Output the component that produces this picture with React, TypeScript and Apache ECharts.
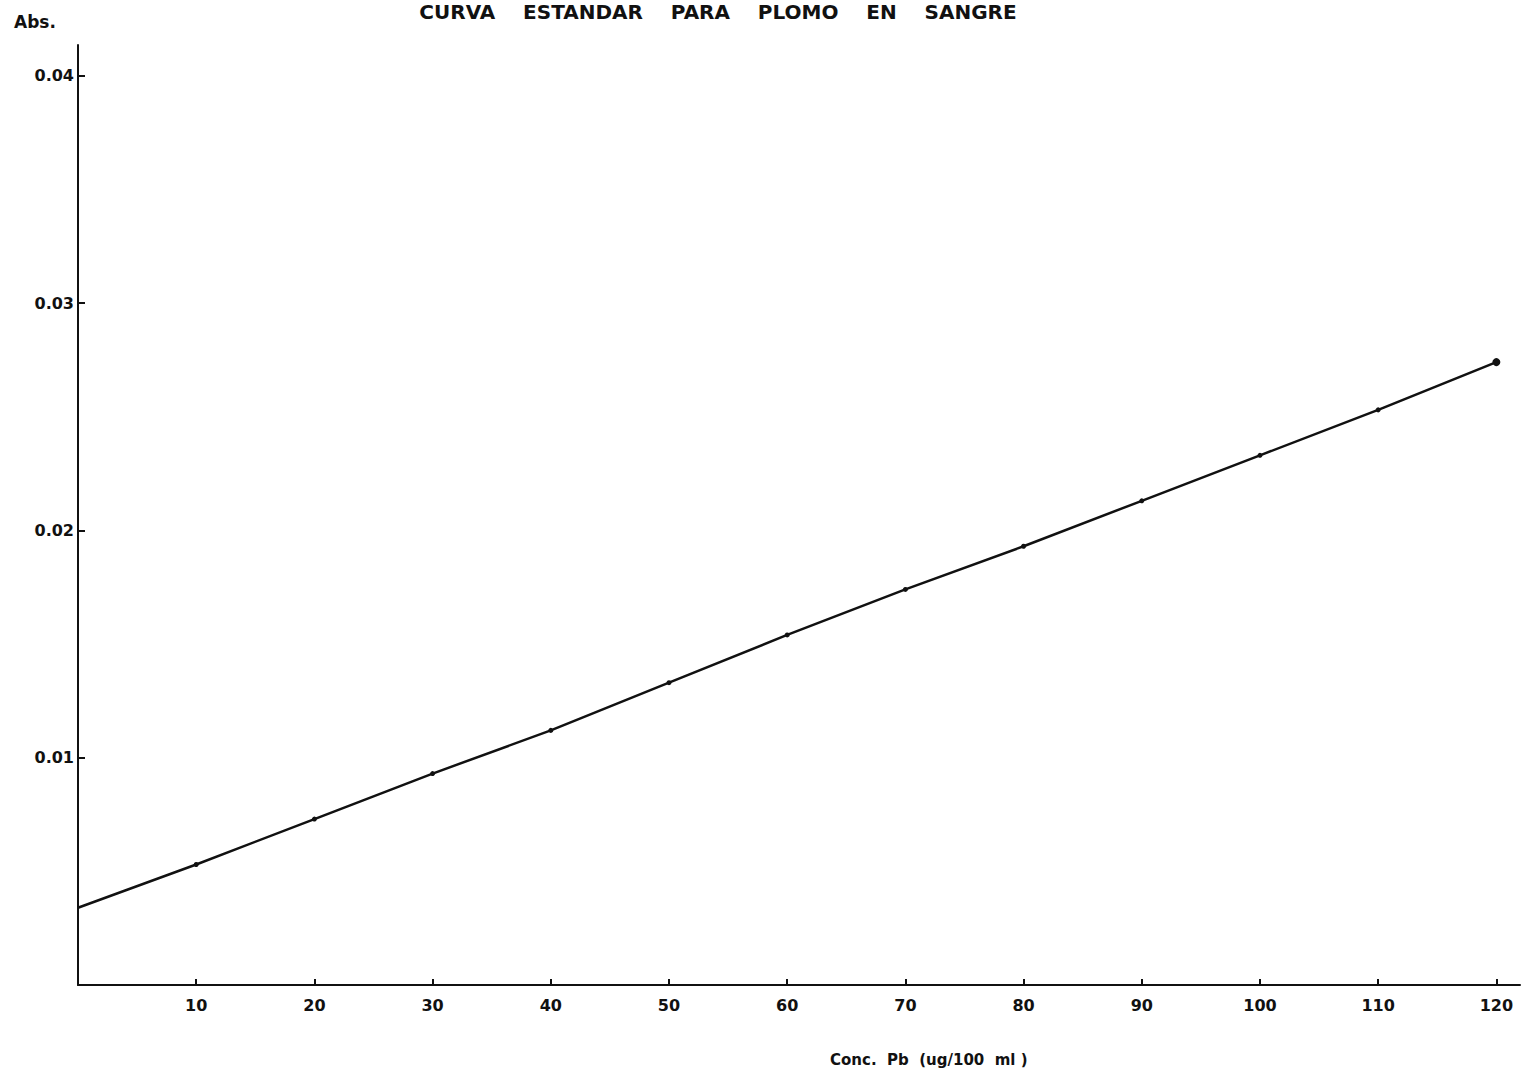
import React, { useEffect, useRef } from "react";
import * as echarts from "echarts";

// Standard curve for lead in blood: absorbance vs. Pb concentration
const concentrations = [0, 10, 20, 30, 40, 50, 60, 70, 80, 90, 100, 110, 120];
const absorbances = [0.0034, 0.0053, 0.0073, 0.0093, 0.0112, 0.0133, 0.0154, 0.0174, 0.0193, 0.0213, 0.0233, 0.0253, 0.0274];
const xTicks = [10, 20, 30, 40, 50, 60, 70, 80, 90, 100, 110, 120];
const yTicks = [0.01, 0.02, 0.03, 0.04];

const titleText = "CURVA    ESTANDAR    PARA    PLOMO    EN    SANGRE";
const yName = "Abs.";
const xName = "Conc.  Pb  (ug/100  ml )";

const FONT = "'DejaVu Sans', sans-serif";

export default function App() {
  const ref = useRef<HTMLDivElement>(null);

  useEffect(() => {
    if (!ref.current) return;
    const chart = echarts.init(ref.current, null, { renderer: "svg" });

    const points = concentrations.map((c, i) => {
      const item: any = { value: [c, absorbances[i]] };
      if (c === 0) item.symbolSize = 0;
      if (c === 120) item.symbolSize = 8;
      return item;
    });

    chart.setOption({
      animation: false,
      backgroundColor: "#ffffff",
      grid: { left: 78, right: 5, top: 45, bottom: 89, containLabel: false },
      xAxis: {
        type: "value",
        min: 0,
        max: 122,
        interval: 10,
        axisLine: { show: true, lineStyle: { color: "#111", width: 2 } },
        axisTick: { show: true, inside: true, length: 6, lineStyle: { color: "#111", width: 2 } },
        splitLine: { show: false },
        axisLabel: {
          margin: 12,
          color: "#111",
          fontFamily: FONT,
          fontWeight: "bold",
          fontSize: 16,
          showMinLabel: false,
          showMaxLabel: false,
          formatter: (v: number) => (xTicks.includes(v) ? String(v) : ""),
        },
      },
      yAxis: {
        type: "value",
        min: 0,
        max: 0.04135,
        interval: 0.01,
        axisLine: { show: true, lineStyle: { color: "#111", width: 2 } },
        axisTick: { show: true, inside: true, length: 7, lineStyle: { color: "#111", width: 2 } },
        splitLine: { show: false },
        axisLabel: {
          margin: 4,
          color: "#111",
          fontFamily: FONT,
          fontWeight: "bold",
          fontSize: 16,
          showMinLabel: false,
          showMaxLabel: false,
          formatter: (v: number) => {
            const t = yTicks.find((y) => Math.abs(y - v) < 1e-9);
            return t !== undefined ? t.toFixed(2) : "";
          },
        },
      },
      graphic: [
        {
          type: "text",
          x: 718,
          y: 2,
          style: {
            text: titleText,
            fill: "#111",
            font: `bold 20px ${FONT}`,
            align: "center",
            verticalAlign: "top",
          },
        },
        {
          type: "text",
          left: 14,
          top: 13,
          style: { text: yName, fill: "#111", font: `bold 17px ${FONT}` },
        },
        {
          type: "text",
          left: 830,
          top: 1052,
          style: { text: xName, fill: "#111", font: `bold 15px ${FONT}` },
        },
      ],
      series: [
        {
          type: "line",
          data: points,
          symbol: "circle",
          symbolSize: 5,
          lineStyle: { color: "#111", width: 2.5 },
          itemStyle: { color: "#111" },
        },
      ],
    });

    return () => chart.dispose();
  }, []);

  return (
    <div
      ref={ref}
      style={{ position: "fixed", left: 0, top: 0, width: 1525, height: 1074, background: "#fff" }}
    />
  );
}
